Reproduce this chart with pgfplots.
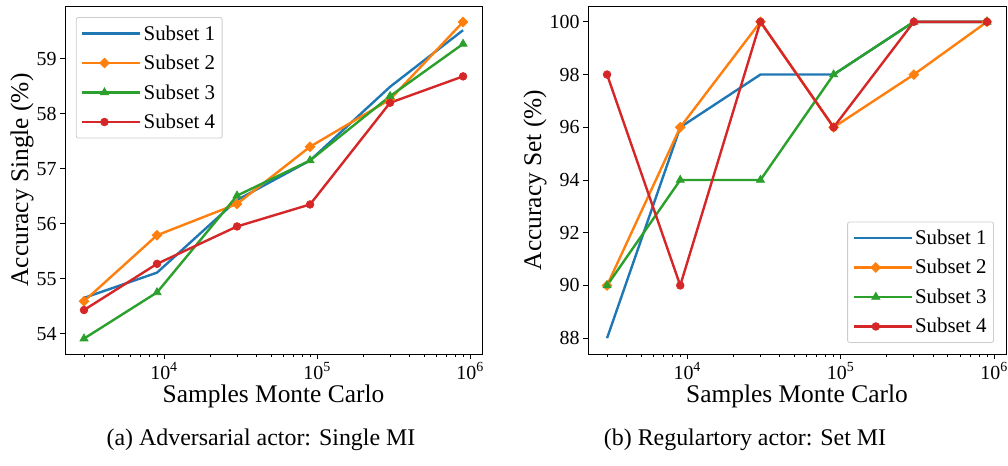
\documentclass[border=0pt]{standalone}
\usepackage{fontspec}
\setmainfont{Liberation Serif}
\usepackage{pgfplots}
\pgfplotsset{compat=1.18}
\definecolor{c1}{HTML}{1F77B4}
\definecolor{c2}{HTML}{FF7F0E}
\definecolor{c3}{HTML}{2CA02C}
\definecolor{c4}{HTML}{D62728}
\definecolor{legframe}{HTML}{CCCCCC}

\pgfplotsset{
  mystyle/.style={
    scale only axis,
    xmin=2254, xmax=1197000,
    tick align=outside,
    tick pos=left,
    major tick length=5bp,
    minor tick length=3bp,
    every tick/.style={black, line width=0.8bp},
    axis line style={line width=0.9bp},
    ticklabel style={font=\fontsize{20}{24}\selectfont},
    /pgf/number format/assume math mode=true,
    xticklabel={\pgfmathtruncatemacro\ee{round(\tick/2.302585093)}10\textsuperscript{\ee}},
    label style={font=\fontsize{25.5}{30}\selectfont},
    xlabel style={at={(axis description cs:0.5,0)}, anchor=center, yshift=-42bp},
    legend cell align=left,
    legend style={draw=legframe, rounded corners=2bp, fill=white, line width=0.8bp,
      font=\fontsize{21}{25}\selectfont, row sep=9.5bp, inner xsep=5bp, inner ysep=6bp},
    legend image code/.code={\path (0bp,0bp) -- (58bp,0bp);\draw[mark repeat=2,mark phase=2,##1, line width=2.4bp] plot coordinates {(0bp,0bp) (22bp,0bp) (44bp,0bp)};},
  },
  s1/.style={c1, no marks, line width=2.4bp},
  s2/.style={c2, line width=2.4bp, mark=square*, mark size=3.4bp, mark options={rotate=45, solid, fill=c2, line width=0.8bp}},
  s3/.style={c3, line width=2.4bp, mark=triangle*, mark size=4.6bp, mark options={solid, fill=c3, line width=0.8bp}},
  s4/.style={c4, line width=2.4bp, mark=*, mark size=3.8bp, mark options={solid, fill=c4, line width=0.8bp}},
}

\begin{document}
\begin{tikzpicture}
\useasboundingbox (0,0) rectangle (1008bp,466bp);

\begin{axis}[xmode=log, mystyle,
  at={(65bp,112bp)}, anchor=south west,
  width=417bp, height=348bp,
  ymin=53.63, ymax=59.96,
  ytick={54,55,56,57,58,59},
  xlabel={Samples Monte Carlo},
  ylabel={Accuracy Single (\%)},
  ylabel style={at={(axis description cs:0,0.5)}, anchor=center, yshift=43bp},
  legend style={at={(0.026,0.968)}, anchor=north west},
]
\addplot[s1] coordinates {(3000,54.65) (9000,55.11) (30000,56.43) (90000,57.15) (300000,58.49) (900000,59.52)};
\addlegendentry{Subset 1}
\addplot[s2] coordinates {(3000,54.59) (9000,55.79) (30000,56.36) (90000,57.40) (300000,58.26) (900000,59.67)};
\addlegendentry{Subset 2}
\addplot[s3] coordinates {(3000,53.91) (9000,54.75) (30000,56.51) (90000,57.15) (300000,58.32) (900000,59.27)};
\addlegendentry{Subset 3}
\addplot[s4] coordinates {(3000,54.43) (9000,55.27) (30000,55.95) (90000,56.35) (300000,58.20) (900000,58.68)};
\addlegendentry{Subset 4}
\end{axis}

\begin{axis}[xmode=log, mystyle,
  at={(588bp,112bp)}, anchor=south west,
  width=418bp, height=348bp,
  ymin=87.4, ymax=100.6,
  ytick={88,90,92,94,96,98,100},
  xlabel={Samples Monte Carlo},
  ylabel={Accuracy Set (\%)},
  ylabel style={at={(axis description cs:0,0.5)}, anchor=center, yshift=53bp},
  legend style={at={(0.971,0.032)}, anchor=south east},
]
\addplot[s1] coordinates {(3000,88) (9000,96) (30000,98) (90000,98) (300000,100) (900000,100)};
\addlegendentry{Subset 1}
\addplot[s2] coordinates {(3000,90) (9000,96) (30000,100) (90000,96) (300000,98) (900000,100)};
\addlegendentry{Subset 2}
\addplot[s3] coordinates {(3000,90) (9000,94) (30000,94) (90000,98) (300000,100) (900000,100)};
\addlegendentry{Subset 3}
\addplot[s4] coordinates {(3000,98) (9000,90) (30000,100) (90000,96) (300000,100) (900000,100)};
\addlegendentry{Subset 4}
\end{axis}

\node[font=\fontsize{24}{28}\selectfont, anchor=center] at (261bp,26bp) {(a) Adversarial actor: Single MI};
\node[font=\fontsize{24}{28}\selectfont, anchor=center] at (745bp,26bp) {(b) Regulartory actor: Set MI};
\end{tikzpicture}
\end{document}
